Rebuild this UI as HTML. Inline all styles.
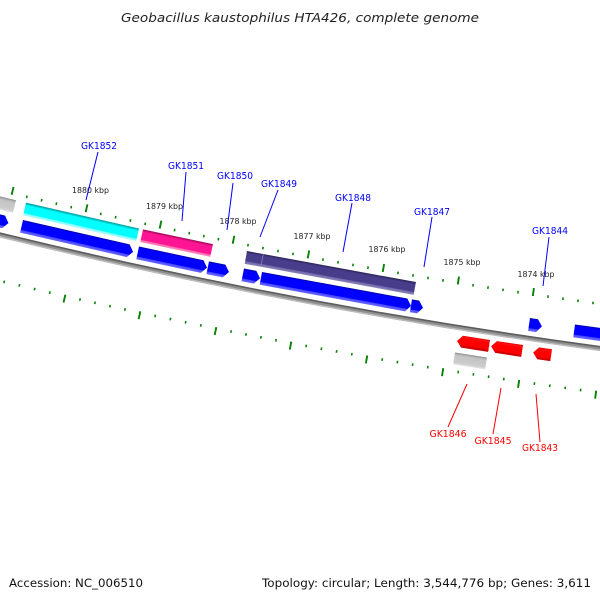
<!DOCTYPE html>
<html><head><meta charset="utf-8"><style>
html,body{margin:0;padding:0;background:#fff;}
svg{display:block;}
</style></head><body>
<svg width="600" height="600" viewBox="0 0 600 600" xmlns="http://www.w3.org/2000/svg" font-family="'DejaVu Sans', 'Liberation Sans', sans-serif">
<defs>
<linearGradient id="gBlue" x1="0" y1="0" x2="0" y2="1">
<stop offset="0" stop-color="#00009a"/><stop offset="0.13" stop-color="#0000ff"/><stop offset="0.76" stop-color="#0000ff"/><stop offset="0.8" stop-color="#4646ff"/><stop offset="1" stop-color="#6c6cff"/>
</linearGradient>
<linearGradient id="gCyan" x1="0" y1="0" x2="0" y2="1">
<stop offset="0" stop-color="#009c9c"/><stop offset="0.15" stop-color="#00d8d8"/><stop offset="0.2" stop-color="#00ffff"/><stop offset="0.8" stop-color="#00ffff"/><stop offset="0.84" stop-color="#80ffff"/><stop offset="1" stop-color="#b0ffff"/>
</linearGradient>
<linearGradient id="gPink" x1="0" y1="0" x2="0" y2="1">
<stop offset="0" stop-color="#a00a5a"/><stop offset="0.15" stop-color="#e0127f"/><stop offset="0.2" stop-color="#ff1493"/><stop offset="0.8" stop-color="#ff1493"/><stop offset="0.84" stop-color="#ff66aa"/><stop offset="1" stop-color="#ff90c4"/>
</linearGradient>
<linearGradient id="gPurple" x1="0" y1="0" x2="0" y2="1">
<stop offset="0" stop-color="#29234f"/><stop offset="0.15" stop-color="#403680"/><stop offset="0.2" stop-color="#483d8b"/><stop offset="0.76" stop-color="#483d8b"/><stop offset="0.8" stop-color="#6f66a8"/><stop offset="1" stop-color="#8b84bb"/>
</linearGradient>
<linearGradient id="gGray" x1="0" y1="0" x2="0" y2="1">
<stop offset="0" stop-color="#8a8a8a"/><stop offset="0.15" stop-color="#b8b8b8"/><stop offset="0.25" stop-color="#c4c4c4"/><stop offset="0.8" stop-color="#cccccc"/><stop offset="1" stop-color="#e4e4e4"/>
</linearGradient>
<linearGradient id="gRed" x1="0" y1="0" x2="0" y2="1">
<stop offset="0" stop-color="#e00000"/><stop offset="0.12" stop-color="#ff1010"/><stop offset="0.3" stop-color="#ff0000"/><stop offset="0.78" stop-color="#ff0000"/><stop offset="0.82" stop-color="#dd0000"/><stop offset="1" stop-color="#c40000"/>
</linearGradient>
</defs>

<!-- Title -->
<text x="300" y="22" text-anchor="middle" font-size="12.5" font-style="italic" fill="#222" textLength="358" lengthAdjust="spacingAndGlyphs">Geobacillus kaustophilus HTA426, complete genome</text>

<!-- Backbone -->
<path d="M-10,232.46 Q300,308.53 610,349.79" fill="none" stroke="#909090" stroke-width="5"/>
<path d="M-10,232.46 Q300,308.53 610,349.79" fill="none" stroke="#5e5e5e" stroke-width="1.6" transform="translate(0,-1.7)"/>
<path d="M-10,232.46 Q300,308.53 610,349.79" fill="none" stroke="#bdbdbd" stroke-width="1.5" transform="translate(0,1.9)"/>

<!-- Outer tick ring dots -->
<g stroke="#0a820a" stroke-width="2.6" fill="none" stroke-dashoffset="0.8">
<line x1="-62" y1="174.95" x2="12" y2="193.31" stroke-dasharray="1.6 13.65"/>
<line x1="12" y1="193.31" x2="86" y2="210.68" stroke-dasharray="1.6 13.60"/>
<line x1="86" y1="210.68" x2="160" y2="227.06" stroke-dasharray="1.6 13.56"/>
<line x1="160" y1="227.06" x2="233" y2="242.24" stroke-dasharray="1.6 13.31"/>
<line x1="233" y1="242.24" x2="308" y2="256.84" stroke-dasharray="1.6 13.68"/>
<line x1="308" y1="256.84" x2="383" y2="270.41" stroke-dasharray="1.6 13.64"/>
<line x1="383" y1="270.41" x2="458" y2="282.96" stroke-dasharray="1.6 13.61"/>
<line x1="458" y1="282.96" x2="533" y2="294.50" stroke-dasharray="1.6 13.58"/>
<line x1="533" y1="294.50" x2="608" y2="305.02" stroke-dasharray="1.6 13.55"/>
</g>
<!-- Inner tick ring dots -->
<g stroke="#0a820a" stroke-width="2.6" fill="none" stroke-dashoffset="0.8">
<line x1="-11" y1="278.3" x2="65" y2="296.2" stroke-dasharray="1.6 14.02"/>
<line x1="65" y1="296.2" x2="140" y2="312.8" stroke-dasharray="1.6 13.76"/>
<line x1="140" y1="312.8" x2="216" y2="328.6" stroke-dasharray="1.6 13.93"/>
<line x1="216" y1="328.6" x2="291" y2="343.2" stroke-dasharray="1.6 13.68"/>
<line x1="291" y1="343.2" x2="367" y2="357.0" stroke-dasharray="1.6 13.85"/>
<line x1="367" y1="357.0" x2="443" y2="369.7" stroke-dasharray="1.6 13.81"/>
<line x1="443" y1="369.7" x2="519" y2="381.4" stroke-dasharray="1.6 13.78"/>
<line x1="519" y1="381.4" x2="596" y2="392.2" stroke-dasharray="1.6 13.95"/>
<line x1="596" y1="392.2" x2="673" y2="401.9" stroke-dasharray="1.6 13.92"/>
</g>
<!-- Major ticks -->
<g stroke="#0a820a" stroke-width="1.9" stroke-linecap="butt">
<line x1="13.53" y1="186.99" x2="11.65" y2="194.77"/>
<line x1="87.44" y1="204.34" x2="85.67" y2="212.14"/>
<line x1="161.36" y1="220.70" x2="159.69" y2="228.53"/>
<line x1="234.28" y1="235.87" x2="232.70" y2="243.71"/>
<line x1="309.20" y1="250.45" x2="307.72" y2="258.31"/>
<line x1="384.12" y1="264.01" x2="382.74" y2="271.89"/>
<line x1="459.03" y1="276.54" x2="457.76" y2="284.44"/>
<line x1="533.95" y1="288.07" x2="532.78" y2="295.98"/>
<line x1="65.34" y1="294.74" x2="63.53" y2="302.53"/>
<line x1="140.32" y1="311.34" x2="138.61" y2="319.15"/>
<line x1="216.30" y1="327.13" x2="214.70" y2="334.96"/>
<line x1="291.28" y1="341.73" x2="289.78" y2="349.58"/>
<line x1="367.26" y1="355.52" x2="365.87" y2="363.40"/>
<line x1="443.24" y1="368.22" x2="441.95" y2="376.13"/>
<line x1="519.22" y1="379.92" x2="518.04" y2="387.83"/>
<line x1="596.20" y1="390.71" x2="595.12" y2="398.63"/>
</g>

<!-- kbp labels -->
<g font-size="8" fill="#222" text-anchor="middle">
<text x="90.5" y="193" textLength="37" lengthAdjust="spacingAndGlyphs">1880 kbp</text>
<text x="164.5" y="209" textLength="37" lengthAdjust="spacingAndGlyphs">1879 kbp</text>
<text x="238" y="224" textLength="37" lengthAdjust="spacingAndGlyphs">1878 kbp</text>
<text x="312" y="239" textLength="37" lengthAdjust="spacingAndGlyphs">1877 kbp</text>
<text x="387" y="252" textLength="37" lengthAdjust="spacingAndGlyphs">1876 kbp</text>
<text x="462" y="265" textLength="37" lengthAdjust="spacingAndGlyphs">1875 kbp</text>
<text x="536" y="277" textLength="37" lengthAdjust="spacingAndGlyphs">1874 kbp</text>
</g>

<!-- Top boxes -->
<g transform="translate(-10,193.96) rotate(13.66)"><rect x="0" y="0" width="26.76" height="13" fill="url(#gGray)"/></g>
<g transform="translate(26,202.67) rotate(12.88)"><rect x="0" y="0" width="115.9" height="13" fill="url(#gCyan)"/></g>
<g transform="translate(143,229.38) rotate(11.93)"><rect x="0" y="0" width="71.5" height="13" fill="url(#gPink)"/></g>
<g transform="translate(247,251.04) rotate(10.40)"><rect x="0" y="0" width="171.8" height="13" fill="url(#gPurple)"/><line x1="16.5" y1="0" x2="16.5" y2="13" stroke="#8a82c0" stroke-width="0.8"/></g>

<!-- Blue forward arrows -->
<g transform="translate(-15,210.73) rotate(13.72)"><polygon points="0,0 20.7,0 25.7,6.5 20.7,13 0,13" fill="url(#gBlue)"/></g>
<g transform="translate(23,219.95) rotate(12.93)"><polygon points="0,0 109.4,0 114.4,6.5 109.4,13 0,13" fill="url(#gBlue)"/></g>
<g transform="translate(139,246.51) rotate(11.99)"><polygon points="0,0 65.9,0 70.9,6.5 65.9,13 0,13" fill="url(#gBlue)"/></g>
<g transform="translate(209,261.35) rotate(11.52)"><polygon points="0,0 16.7,0 21.7,6.5 16.7,13 0,13" fill="url(#gBlue)"/></g>
<g transform="translate(244,268.45) rotate(11.19)"><polygon points="0,0 12.6,0 17.6,6.5 12.6,13 0,13" fill="url(#gBlue)"/></g>
<g transform="translate(262,272.0) rotate(10.35)"><polygon points="0,0 147.7,0 152.7,6.5 147.7,13 0,13" fill="url(#gBlue)"/></g>
<g transform="translate(412,299.38) rotate(9.53)"><polygon points="0,0 7.3,0 12.3,6.5 7.3,13 0,13" fill="url(#gBlue)"/></g>
<g transform="translate(530,318.06) rotate(8.33)"><polygon points="0,0 8,0 13,6.5 8,13 0,13" fill="url(#gBlue)"/></g>
<g transform="translate(575,324.52) rotate(7.71)"><rect x="0" y="0" width="50" height="13" fill="url(#gBlue)"/></g>

<!-- Red reverse arrows -->
<g transform="translate(458,334.96) rotate(8.96)"><polygon points="5,0 32.4,0 32.4,12 5,12 0,6" fill="url(#gRed)"/></g>
<g transform="translate(492,340.32) rotate(8.62)"><polygon points="5,0 31.4,0 31.4,12 5,12 0,6" fill="url(#gRed)"/></g>
<g transform="translate(534,346.65) rotate(8.26)"><polygon points="5,0 18.2,0 18.2,12 5,12 0,6" fill="url(#gRed)"/></g>
<!-- Lower gray box -->
<g transform="translate(455,352.47) rotate(9.00)"><rect x="0" y="0" width="32.4" height="12" fill="url(#gGray)"/></g>

<!-- Blue gene labels -->
<g stroke="#0000ff" stroke-width="1">
<line x1="98" y1="152" x2="86" y2="200"/>
<line x1="186" y1="172" x2="182" y2="221"/>
<line x1="233" y1="183" x2="227" y2="230"/>
<line x1="278" y1="190" x2="260" y2="237"/>
<line x1="352" y1="203" x2="343" y2="252"/>
<line x1="432" y1="217" x2="424" y2="267"/>
<line x1="549" y1="237" x2="543" y2="286"/>
</g>
<g font-size="9.5" fill="#0000ff" text-anchor="middle">
<text x="99" y="149" textLength="36" lengthAdjust="spacingAndGlyphs">GK1852</text>
<text x="186" y="169" textLength="36" lengthAdjust="spacingAndGlyphs">GK1851</text>
<text x="235" y="179" textLength="36" lengthAdjust="spacingAndGlyphs">GK1850</text>
<text x="279" y="187" textLength="36" lengthAdjust="spacingAndGlyphs">GK1849</text>
<text x="353" y="201" textLength="36" lengthAdjust="spacingAndGlyphs">GK1848</text>
<text x="432" y="215" textLength="36" lengthAdjust="spacingAndGlyphs">GK1847</text>
<text x="550" y="234" textLength="36" lengthAdjust="spacingAndGlyphs">GK1844</text>
</g>

<!-- Red gene labels -->
<g stroke="#ff0000" stroke-width="1">
<line x1="467" y1="384" x2="448" y2="427"/>
<line x1="501" y1="388" x2="493" y2="434"/>
<line x1="536" y1="394" x2="540" y2="442"/>
</g>
<g font-size="9.5" fill="#ff0000" text-anchor="middle">
<text x="448" y="437" textLength="37" lengthAdjust="spacingAndGlyphs">GK1846</text>
<text x="493" y="444" textLength="37" lengthAdjust="spacingAndGlyphs">GK1845</text>
<text x="540" y="451" textLength="36" lengthAdjust="spacingAndGlyphs">GK1843</text>
</g>

<!-- Footer -->
<text x="9" y="587" font-size="11.5" fill="#111" textLength="134" lengthAdjust="spacingAndGlyphs">Accession: NC_006510</text>
<text x="262" y="587" font-size="11.5" fill="#111" textLength="329" lengthAdjust="spacingAndGlyphs">Topology: circular; Length: 3,544,776 bp; Genes: 3,611</text>
</svg>
</body></html>
